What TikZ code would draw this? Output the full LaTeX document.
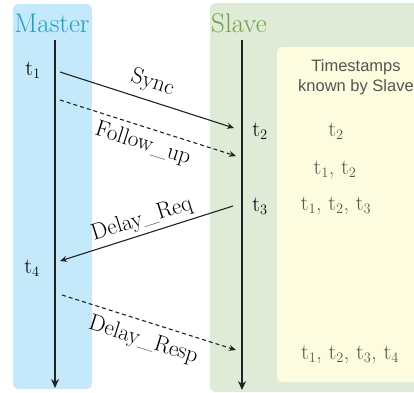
\documentclass[tikz,border=0pt]{standalone}
\usepackage{fontspec}
\newfontfamily\labelsans{Liberation Sans}
\usepackage{xcolor}
\usetikzlibrary{arrows.meta, positioning}
\definecolor{masterfill}{RGB}{196,233,250}
\definecolor{mastertext}{RGB}{38,156,196}
\definecolor{slavefill}{RGB}{223,234,215}
\definecolor{slavetext}{RGB}{112,160,70}
\definecolor{knownfill}{RGB}{253,252,222}
\definecolor{stampgray}{RGB}{85,85,85}
\definecolor{linegray}{RGB}{34,34,34}
\tikzset{
    x=1pt, y=-1pt,
    lane/.style={rounded corners=5pt, draw=none},
    lifeline/.style={draw=linegray, line width=2.4pt, -{Stealth[length=9pt, width=8pt]}},
    msg/.style={draw=linegray, line width=1.1pt, -{Stealth[length=7pt, width=6pt]}},
    msgdash/.style={msg, dash pattern=on 4pt off 3pt},
    role/.style={font=\fontsize{27}{30}\selectfont},
    stamp/.style={font=\fontsize{22}{24}\selectfont},
    known/.style={font=\fontsize{22}{24}\selectfont, text=stampgray},
    msglabel/.style={font=\fontsize{23}{25}\selectfont, sloped, inner sep=1pt},
}

\begin{document}
\begin{tikzpicture}
    \useasboundingbox (0,0) rectangle (414,392);
    % swim lanes
    \fill[lane, masterfill] (13,4) rectangle (92,389);
    \fill[lane, slavefill] (210,3) rectangle (424,392);
    \fill[lane, knownfill] (277,47) rectangle (424,382);
    \node[role, text=mastertext] (master) at (52,23) {Master};
    \node[role, text=slavetext, anchor=west, inner sep=0pt] (slave) at (211,23) {Slave};

    % lifelines
    \coordinate (mtop) at (55,40);
    \coordinate (mbot) at (55,388);
    \coordinate (stop) at (242,40);
    \coordinate (sbot) at (242,390);
    \draw[lifeline] (mtop) -- (mbot);
    \draw[lifeline] (stop) -- (sbot);

    % message end points
    \coordinate (syncA) at (60,72);
    \coordinate (syncB) at (234,128);
    \coordinate (fupA) at (60,100);
    \coordinate (fupB) at (236,156);
    \coordinate (reqA) at (233,206);
    \coordinate (reqB) at (60,261);
    \coordinate (respA) at (62,295);
    \coordinate (respB) at (236,350);

    \draw[msg] (syncA) -- node[msglabel, above=6pt] {Sync} (syncB);
    \draw[msgdash] (fupA) -- node[msglabel, below=5pt] {Follow\_up} (fupB);
    \draw[msg] (reqA) -- node[msglabel, above=3pt] {Delay\_Req} (reqB);
    \draw[msgdash] (respA) -- node[msglabel, below=7pt] {Delay\_Resp} (respB);

    % time stamps
    \node[stamp] (t1) at (33,70) {t$_1$};
    \node[stamp] (t4) at (32,268) {t$_4$};
    \node[stamp] (t2) at (260,131) {t$_2$};
    \node[stamp] (t3) at (260,206) {t$_3$};

    % what the slave knows
    \node[font=\labelsans\fontsize{16.5}{20}\selectfont, text=stampgray, align=center] (head) at (356,77) {Timestamps\\known by Slave};
    \node[known] (k1) at (336,131) {t$_2$};
    \node[known] (k2) at (335,170) {t$_1$, t$_2$};
    \node[known] (k3) at (336,206) {t$_1$, t$_2$, t$_3$};
    \node[known] (k4) at (350,355) {t$_1$, t$_2$, t$_3$, t$_4$};
\end{tikzpicture}
\end{document}
